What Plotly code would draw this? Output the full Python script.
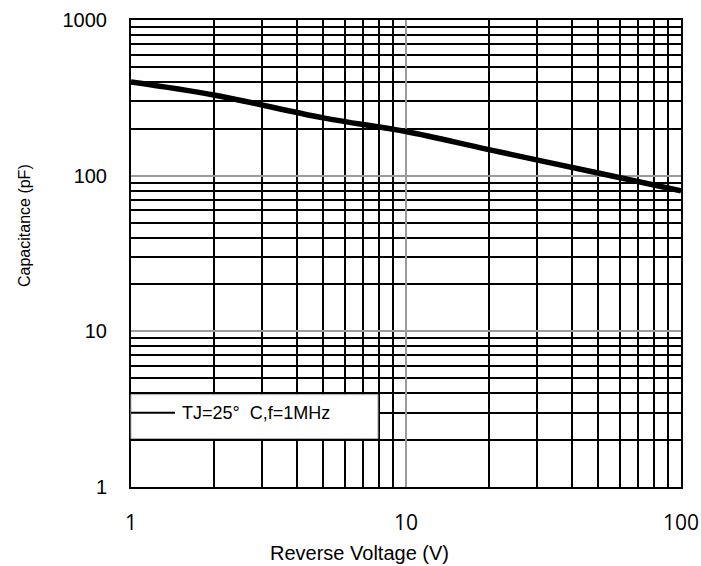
import math
import plotly.graph_objects as go

# Junction capacitance vs. reverse voltage (log-log)
voltage_v = [1, 2, 5, 10, 20, 50, 100]
capacitance_pf = [400, 330, 235, 192, 147, 104, 80]

x_major = [1, 10, 100]
x_major_text = ["1", "10", "100"]
x_minor = [2, 3, 4, 5, 6, 7, 8, 9, 20, 30, 40, 50, 60, 70, 80, 90]

y_major = [1, 10, 100, 1000]
y_major_text = ["1", "10", "100", "1000"]
y_minor = [2, 3, 4, 5, 6, 7, 8, 9, 20, 30, 40, 50, 60, 70, 80, 90,
           200, 300, 400, 500, 600, 700, 800, 900]

legend_label = "TJ=25°  C,f=1MHz"
legend_level = 3  # pF level at which the condition label sits

fig = go.Figure()
fig.add_trace(go.Scatter(
    x=voltage_v, y=capacitance_pf, mode="lines",
    line=dict(color="black", width=5.5, shape="spline", smoothing=1.0),
    showlegend=False,
))

axis_common = dict(
    type="log", automargin=False,
    showline=True, linecolor="black", linewidth=2, mirror=True,
    showgrid=True, gridcolor="#9a9a9a", gridwidth=2,
    ticks="", zeroline=False,
)

fig.update_xaxes(
    **axis_common,
    range=[0, 2],
    tickmode="array", tickvals=x_major, ticktext=x_major_text,
    tickfont=dict(family="Open Sans", size=21, color="black"),
    ticklabelstandoff=16,
    minor=dict(tickmode="array", tickvals=x_minor, showgrid=True,
               gridcolor="black", gridwidth=2, ticks=""),
)
fig.update_yaxes(
    **axis_common,
    range=[0, 3],
    tickmode="array", tickvals=y_major, ticktext=y_major_text,
    tickfont=dict(family="Liberation Sans, Arial", size=20, color="black"),
    ticklabelstandoff=18,
    minor=dict(tickmode="array", tickvals=y_minor, showgrid=True,
               gridcolor="black", gridwidth=2, ticks=""),
)

title_font = dict(family="Liberation Sans, Arial", color="black")

# Axis titles
fig.add_annotation(xref="paper", yref="paper", x=(359 - 131) / 550, y=-(553 - 487) / 467,
                   text="Reverse Voltage (V)", showarrow=False,
                   xanchor="center", yanchor="middle",
                   font=dict(size=20, **title_font))
fig.add_annotation(xref="paper", yref="paper", x=-(131 - 24) / 550, y=(487 - 226) / 467,
                   text="Capacitance (pF)", showarrow=False, textangle=-90,
                   xanchor="center", yanchor="middle",
                   font=dict(size=16, **title_font))

# Condition box in the lower-left corner of the grid
fig.add_shape(type="rect", xref="paper", yref="y",
              x0=0.0, x1=0.449, y0=2.05, y1=3.92,
              fillcolor="white", line=dict(color="#b0b0b0", width=1),
              layer="above")
fig.add_shape(type="line", xref="paper", yref="y",
              x0=0.0, x1=0.08, y0=legend_level, y1=legend_level,
              line=dict(color="black", width=2), layer="above")
fig.add_annotation(xref="paper", yref="y", x=0.089, y=math.log10(legend_level),
                   text=legend_label, showarrow=False, xanchor="left",
                   font=dict(size=18, **title_font))

fig.update_layout(
    width=701, height=566,
    margin=dict(l=131, r=20, t=20, b=79),
    paper_bgcolor="white", plot_bgcolor="white",
)

fig.write_html("out.html")
